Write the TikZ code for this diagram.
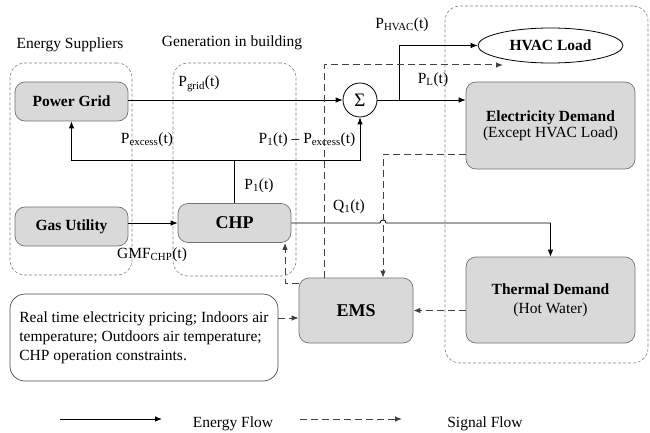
\documentclass[tikz,border=0pt]{standalone}
\usepackage{fontspec}
\setmainfont{Liberation Serif}
\usetikzlibrary{arrows.meta,shapes.geometric}
\begin{document}
\begin{tikzpicture}[x=1pt,y=-1pt,
  font=\fontsize{15.5}{19}\selectfont,
  box/.style={draw=black!55, fill=black!15, rounded corners=10pt, line width=0.7pt, inner sep=0pt, align=center},
  grp/.style={draw=black!50, dash pattern=on 3pt off 2pt, rounded corners=15pt, line width=0.6pt, inner sep=0pt},
  energy/.style={line width=0.8pt, -{Latex[length=7pt,width=5.5pt]}},
  signal/.style={line width=1pt, black!75, dash pattern=on 7pt off 4pt, -{Latex[length=7pt,width=5.5pt]}},
  lbl/.style={inner sep=0pt}
]
\useasboundingbox (0,0) rectangle (650,433);

% groups
\node[grp, minimum width=122pt, minimum height=212pt] (g1) at (71,169) {};
\node[grp, minimum width=123pt, minimum height=213pt] (g2) at (234.5,169.5) {};
\node[grp, minimum width=203pt, minimum height=357pt] (g3) at (546.5,184.5) {};

% titles
\node[lbl] (t1) at (70,45) {Energy Suppliers};
\node[lbl] (t2) at (232,43) {Generation in building};

% nodes
\node[box, minimum width=113pt, minimum height=39pt] (pg) at (71.5,101.5) {\textbf{Power Grid}};
\node[box, minimum width=113pt, minimum height=39pt] (gu) at (71.5,226.5) {\textbf{Gas Utility}};
\node[box, minimum width=113pt, minimum height=39pt, font=\fontsize{18}{20}\selectfont\bfseries] (chp) at (234.5,223) {CHP};
\node[draw, circle, fill=white, line width=0.8pt, minimum size=34pt, inner sep=0pt, font=\fontsize{19}{20}\selectfont] (sig) at (360,100) {Σ};
\node[draw, ellipse, fill=white, line width=0.8pt, minimum width=145pt, minimum height=35pt, inner sep=0pt] (hvac) at (550.5,45.5) {\textbf{HVAC Load}};
\node[box, minimum width=169pt, minimum height=87pt] (ed) at (550.5,125.5) {\textbf{Electricity Demand}\\[-3pt](Except HVAC Load)};
\node[box, minimum width=169pt, minimum height=86pt] (td) at (550.5,300) {\textbf{Thermal Demand}\\(Hot Water)};
\node[box, minimum width=114pt, minimum height=65pt, font=\fontsize{18}{20}\selectfont\bfseries] (ems) at (356,310.5) {EMS};
\node[draw=black!70, rounded corners=15pt, line width=0.7pt, minimum width=268pt, minimum height=87pt, inner sep=0pt, align=left] (info) at (144,337.5)
  {Real time electricity pricing; Indoors air\\temperature; Outdoors air temperature;\\CHP operation constraints.};

% labels
\node[lbl] (lgrid) at (199,84) {P\textsubscript{grid}(t)};
\node[lbl] (lexc) at (147,140) {P\textsubscript{excess}(t)};
\node[lbl] (ldiff) at (307,140) {P\textsubscript{1}(t) – P\textsubscript{excess}(t)};
\node[lbl] (lp1) at (259,186) {P\textsubscript{1}(t)};
\node[lbl] (lgmf) at (152,255) {GMF\textsubscript{CHP}(t)};
\node[lbl] (lq1) at (349,207) {Q\textsubscript{1}(t)};
\node[lbl] (lhvac) at (402,25) {P\textsubscript{HVAC}(t)};
\node[lbl] (lpl) at (433,80) {P\textsubscript{L}(t)};

% coordinates
\coordinate (j1) at (234.5,160);
\coordinate (b1) at (399,100);
\coordinate (jx) at (383,223);
\coordinate (s1) at (324,65);
\coordinate (s2) at (503,65);
\coordinate (s3) at (383,154);

% energy flows
\draw[energy] (pg.east |- sig.west) -- (sig.west);
\draw[energy] (chp.north) -- (j1) -| (pg.south);
\draw[energy] (j1) -| (sig.south);
\draw[energy] (sig.east) -- (sig.east -| ed.west);
\draw[energy] (b1) |- (hvac.west);
\draw[energy] (gu.east |- chp.west) -- (chp.west);
\draw[energy] (chp.east) -- ([xshift=-3pt]jx)
  .. controls ([xshift=-3pt,yshift=4pt]jx) and ([xshift=3pt,yshift=4pt]jx) .. ([xshift=3pt]jx)
  -| (td.north);

% signal flows
\draw[signal] ([yshift=-6pt]ems.north west) -| ([xshift=50.5pt]chp.south);
\draw[signal] (ems.north -| s1) -- (s1) -- (s2);
\draw[signal] (ed.west |- s3) -- (s3) -- (s3 |- ems.north);
\draw[signal] (td.west |- ems.east) -- (ems.east);
\draw[signal] ([yshift=19.5pt]info.east) -- ([yshift=19.5pt]info.east -| ems.west);

% legend
\coordinate (le1) at (60,419);
\coordinate (le2) at (162,419);
\coordinate (ls1) at (300,419);
\coordinate (ls2) at (402,419);
\draw[energy] (le1) -- (le2);
\draw[signal] (ls1) -- (ls2);
\node[lbl] (lef) at (233,424) {Energy Flow};
\node[lbl] (lsf) at (485,424) {Signal Flow};
\end{tikzpicture}
\end{document}
